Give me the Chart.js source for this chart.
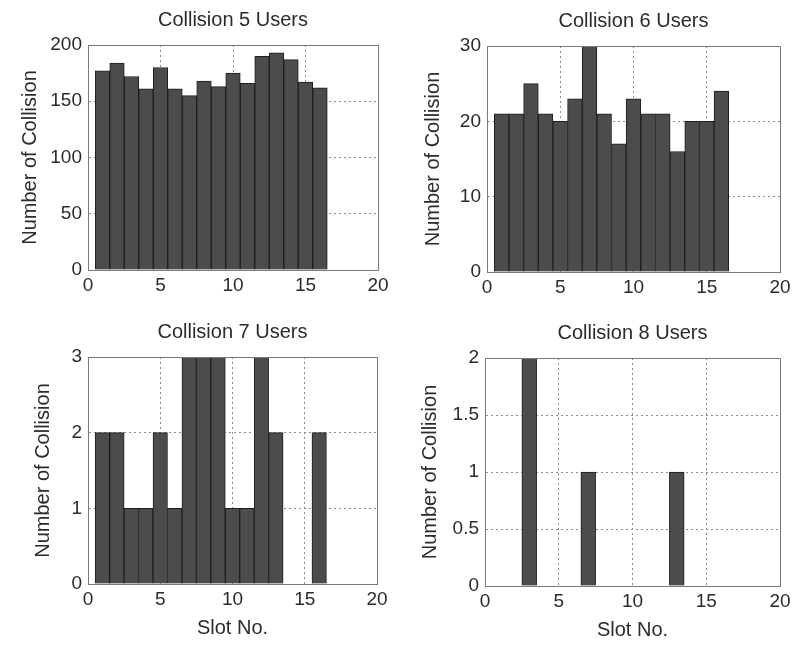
<!DOCTYPE html>
<html>
<head>
<meta charset="utf-8">
<script src="https://cdn.jsdelivr.net/npm/chart.js@4.4.1/dist/chart.umd.min.js"></script>
<style>
    html, body { margin: 0; padding: 0; background: #fff; }
    #wrap { position: relative; width: 795px; height: 645px; overflow: hidden; }
    canvas { position: absolute; }
</style>
</head>
<body>
<div id="wrap">
    <canvas id="c5" width="395" height="310" style="left:0px;top:0px;"></canvas>
    <canvas id="c6" width="395" height="312" style="left:400px;top:0px;"></canvas>
    <canvas id="c7" width="395" height="333" style="left:0px;top:312px;"></canvas>
    <canvas id="c8" width="395" height="333" style="left:400px;top:312px;"></canvas>
</div>
<script>
(function(){

    "use strict"

    // data (slot number -> collision count)
    const slots = [1, 2, 3, 4, 5, 6, 7, 8, 9, 10, 11, 12, 13, 14, 15, 16];
    const users5 = [177, 184, 172, 161, 180, 161, 155, 168, 163, 175, 166, 190, 193, 187, 167, 162];
    const users6 = [21, 21, 25, 21, 20, 23, 30, 21, 17, 23, 21, 21, 16, 20, 20, 24];
    const users7 = [2, 2, 1, 1, 2, 1, 3, 3, 3, 1, 1, 3, 2, 0, 0, 2];
    const users8 = [0, 0, 2, 0, 0, 0, 1, 0, 0, 0, 0, 0, 1, 0, 0, 0];

    const titles = ["Collision 5 Users", "Collision 6 Users", "Collision 7 Users", "Collision 8 Users"];
    const xTicks = [0, 5, 10, 15, 20];
    const yMax = [200, 30, 3, 2];
    const yStep = [50, 10, 1, 0.5];

    const textColor = "#2b2b2b";
    const fontFamily = "'Liberation Sans', Arial, sans-serif";

    // draws the full axes box like matlab does
    const boxPlugin = {
        id: "box",
        afterDatasetsDraw(chart) {
            const a = chart.chartArea;
            const ctx = chart.ctx;
            ctx.save();
            ctx.strokeStyle = "#7a7a7a";
            ctx.lineWidth = 1;
            ctx.strokeRect(Math.round(a.left) + 0.5, Math.round(a.top) + 0.5,
                Math.round(a.right - a.left), Math.round(a.bottom - a.top));
            ctx.restore();
        }
    };

    // make one histogram subplot
    function makeChart(id, idx, values, geo) {
        const points = slots.map((s, i) => ({x: s, y: values[i]}));
        return new Chart(document.getElementById(id), {
            type: "bar",
            data: {
                datasets: [{
                    data: points,
                    backgroundColor: "#4c4c4c",
                    borderColor: "#1e1e1e",
                    borderWidth: 1,
                    barPercentage: 1,
                    categoryPercentage: 1
                }]
            },
            options: {
                responsive: false,
                animation: false,
                layout: { padding: { left: 0, right: geo.right, top: 0, bottom: 0 } },
                plugins: {
                    legend: { display: false },
                    tooltip: { enabled: false },
                    title: {
                        display: true,
                        text: titles[idx],
                        fullSize: false,
                        color: textColor,
                        font: { family: fontFamily, size: 20, weight: "normal" },
                        padding: { top: geo.titleTop, bottom: 13 }
                    }
                },
                scales: {
                    x: {
                        type: "linear",
                        min: xTicks[0],
                        max: xTicks[xTicks.length - 1],
                        offset: false,
                        afterFit: s => { s.height = geo.xHeight; },
                        afterBuildTicks: s => { s.ticks = xTicks.map(v => ({value: v})); },
                        ticks: {
                            color: textColor,
                            padding: 4,
                            maxRotation: 0,
                            font: { family: fontFamily, size: 19 }
                        },
                        grid: { offset: false, drawTicks: false, color: "#8c8c8c" },
                        border: { color: "#7a7a7a", dash: [2, 3] },
                        title: {
                            display: geo.xTitle,
                            text: "Slot No.",
                            color: textColor,
                            font: { family: fontFamily, size: 20 },
                            padding: { top: 0, bottom: geo.xTitlePad }
                        }
                    },
                    y: {
                        min: 0,
                        max: yMax[idx],
                        afterFit: s => { s.width = geo.yWidth; },
                        ticks: {
                            stepSize: yStep[idx],
                            color: textColor,
                            padding: 6,
                            font: { family: fontFamily, size: 19 },
                            callback: v => v.toString()
                        },
                        grid: { drawTicks: false, color: "#8c8c8c" },
                        border: { color: "#7a7a7a", dash: [2, 3] },
                        title: {
                            display: true,
                            text: "Number of Collision",
                            color: textColor,
                            font: { family: fontFamily, size: 20 },
                            padding: { top: geo.yTitlePad, bottom: 0 }
                        }
                    }
                }
            },
            plugins: [boxPlugin]
        });
    }

    makeChart("c5", 0, users5, {right: 17, titleTop: 8, xHeight: 40, yWidth: 88, yTitlePad: 18, xTitle: false, xTitlePad: 0});
    makeChart("c6", 1, users6, {right: 15, titleTop: 9, xHeight: 40, yWidth: 87, yTitlePad: 21, xTitle: false, xTitlePad: 0});
    makeChart("c7", 2, users7, {right: 18, titleTop: 8, xHeight: 61, yWidth: 88, yTitlePad: 31, xTitle: true, xTitlePad: 5});
    makeChart("c8", 3, users8, {right: 15, titleTop: 9, xHeight: 59, yWidth: 85, yTitlePad: 18, xTitle: true, xTitlePad: 3});

}());
</script>
</body>
</html>
